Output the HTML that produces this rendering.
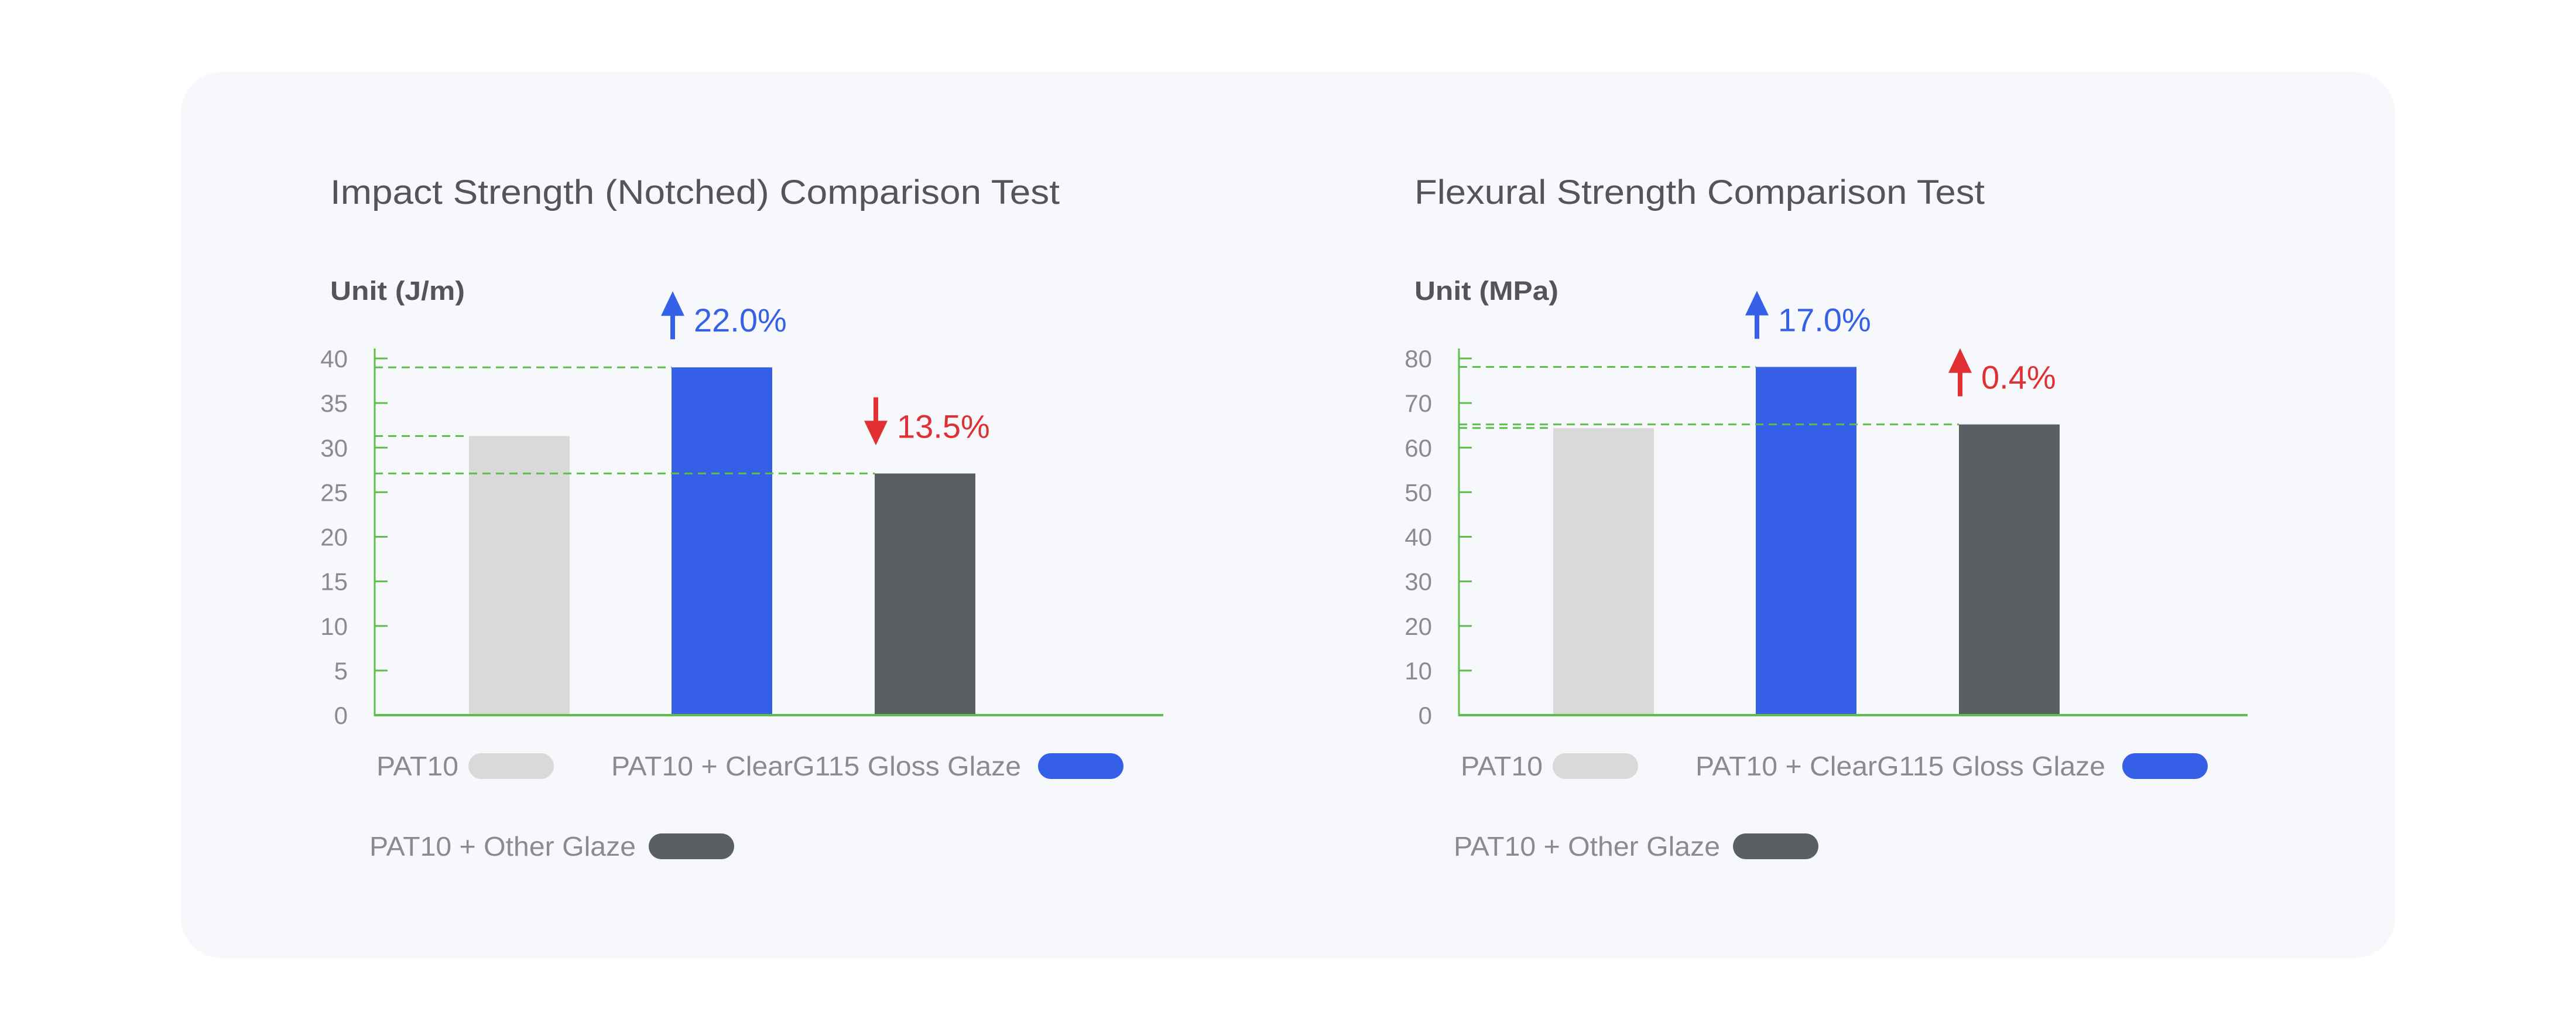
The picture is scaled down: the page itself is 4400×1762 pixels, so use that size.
<!DOCTYPE html>
<html><head><meta charset="utf-8"><style>
html,body{margin:0;padding:0;background:#fff;}
svg{display:block;font-family:"Liberation Sans",sans-serif;}
</style></head><body>
<svg id="root" width="4400" height="1762" viewBox="0 0 4400 1762" xmlns="http://www.w3.org/2000/svg">
<rect x="309" y="123" width="3782" height="1513" rx="70" fill="#f7f8fc"/>
</svg>
<script>
const seriesNames=["PAT10","PAT10 + ClearG115 Gloss Glaze","PAT10 + Other Glaze"];
const seriesColors=["#d9d9d9","#365fe8","#5b5e62"];
const impactValues=[31.3,39.0,27.1];
const impactTicks=[0,5,10,15,20,25,30,35,40];
const impactChanges=["22.0%","13.5%"];
const impactDirs=["up","down"];
const flexValues=[64.4,78.1,65.2];
const flexTicks=[0,10,20,30,40,50,60,70,80];
const flexChanges=["17.0%","0.4%"];
const flexDirs=["up","up"];
const NS="http://www.w3.org/2000/svg";
const root=document.getElementById('root');
function mk(tag,attrs,parent,text){const e=document.createElementNS(NS,tag);for(const k in attrs)e.setAttribute(k,attrs[k]);if(text!==undefined)e.textContent=text;(parent||root).appendChild(e);return e;}
function chart(ox,title,titleW,unit,unitW,values,ticks,changes,dirs,prefix){
  const g=mk('g',{});
  
  
  const axisX=ox+640-564, zeroY=1221, topY=612, maxV=ticks[ticks.length-1];
  const y=v=>zeroY-(v/maxV)*(zeroY-topY);
  const t=mk('text',{x:ox,y:348,'font-size':58,fill:'#555558',textLength:titleW,lengthAdjust:'spacingAndGlyphs'},g,title);
  
  
  const u=mk('text',{x:ox,y:512,'font-size':45,'font-weight':'bold',fill:'#555558',textLength:unitW,lengthAdjust:'spacingAndGlyphs'},g,unit);
  
  
  ticks.forEach(v=>{
    const tl=mk('text',{x:axisX-46,y:y(v)+15,'font-size':42,fill:'#8a8b90','text-anchor':'end'},g,String(v));
    
    
    const tk=mk('line',{x1:axisX,x2:axisX+22,y1:y(v),y2:y(v),stroke:'#5cbf4a','stroke-width':3},g);
    
    
  });
  const ax=mk('line',{x1:axisX,x2:axisX,y1:595,y2:zeroY+2,stroke:'#5cbf4a','stroke-width':3},g);
  
  
  const bw=172, centers=[ox+323,ox+669,ox+1016];
  values.forEach((v,i)=>{
    const bx=centers[i]-bw/2;
    const dl=mk('line',{x1:axisX,x2:bx,y1:y(v),y2:y(v),stroke:'#5cbf4a','stroke-width':3,'stroke-dasharray':'14 9'},g);
    
    
    const b=mk('rect',{x:bx,y:y(v),width:bw,height:zeroY-y(v),fill:seriesColors[i]},g);
    
    
  });
  const xa=mk('line',{x1:axisX,x2:axisX+1347,y1:zeroY,y2:zeroY,stroke:'#5cbf4a','stroke-width':4},g);
  
  
  changes.forEach((c,k)=>{
    const i=k+1, bx=centers[i]-bw/2, col=(i===1?'#3560e8':'#e03034');
    const ly=y(values[i])-78;
    const ax0=bx+2;
    const ar=mk('path',{d: dirs[k]==='up'
      ? `M${ax0} ${ly-52} L${ax0-20} ${ly-10} L${ax0-4} ${ly-10} L${ax0-4} ${ly+30} L${ax0+4} ${ly+30} L${ax0+4} ${ly-10} L${ax0+20} ${ly-10}Z`
      : `M${ax0} ${ly+30} L${ax0-20} ${ly-12} L${ax0-4} ${ly-12} L${ax0-4} ${ly-52} L${ax0+4} ${ly-52} L${ax0+4} ${ly-12} L${ax0+20} ${ly-12}Z`,fill:col},g);
    
    
    const ct=mk('text',{x:bx+38,y:ly+17,'font-size':56,fill:col},g,c);
    
    
  });
  const legend=[[ox+79,1308,140,seriesNames[0],0],[ox+480,1308,700,seriesNames[1],1],[ox+67,1445,455,seriesNames[2],2]];
  const pillX=[ox+236,ox+1209,ox+544];
  legend.forEach((l,j)=>{
    const lg=mk('g',{},g);
    
    
    mk('text',{x:l[0],y:l[1]+16,'font-size':46,fill:'#8a8b90',textLength:l[2],lengthAdjust:'spacingAndGlyphs'},lg,l[3]);
    mk('rect',{x:pillX[j],y:l[1]-22,width:146,height:44,rx:22,fill:seriesColors[l[4]]},lg);
  });
}
chart(564,"Impact Strength (Notched) Comparison Test",1246,"Unit (J/m)",230,impactValues,impactTicks,impactChanges,impactDirs,'impact');
chart(2416,"Flexural Strength Comparison Test",974,"Unit (MPa)",246,flexValues,flexTicks,flexChanges,flexDirs,'flexural');
</script>
</body></html>
